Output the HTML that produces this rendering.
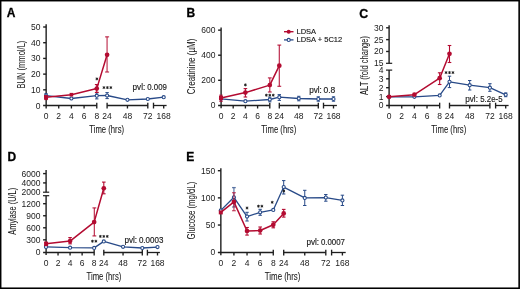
<!DOCTYPE html>
<html><head><meta charset="utf-8"><style>
html,body{margin:0;padding:0;background:#fff;}
body{width:520px;height:289px;overflow:hidden;}
svg{display:block;will-change:transform;font-family:"Liberation Sans", sans-serif;fill:#222;}
text{fill:#1a1a1a;}
.t{stroke:#1a1a1a;stroke-width:0.08px;}
.v{stroke:#1a1a1a;stroke-width:0.04px;}
.m{stroke:#1a1a1a;stroke-width:0.15px;}
.b{stroke:#000;stroke-width:0.3px;fill:#000;}
</style></head><body>
<svg width="520" height="289" viewBox="0 0 520 289">
<rect x="0.65" y="0.65" width="518.5" height="287.6" fill="none" stroke="#000" stroke-width="1.6"/>
<text x="6.80" y="17.00" font-size="12" text-anchor="start" font-weight="bold" class="b">A</text>
<text x="186.40" y="17.30" font-size="12" text-anchor="start" font-weight="bold" class="b">B</text>
<text x="359.30" y="17.70" font-size="12.4" text-anchor="start" font-weight="bold" class="b">C</text>
<text x="7.40" y="160.80" font-size="12" text-anchor="start" font-weight="bold" class="b">D</text>
<text x="186.30" y="161.30" font-size="12" text-anchor="start" font-weight="bold" class="b">E</text>
<line x1="46.15" y1="24.20" x2="46.15" y2="108.55" stroke="#1e1e1e" stroke-width="1.4"/>
<line x1="43.15" y1="89.84" x2="46.15" y2="89.84" stroke="#1e1e1e" stroke-width="1.4"/>
<text x="40.55" y="92.79" font-size="8.5" text-anchor="end" font-weight="normal">10</text>
<line x1="43.15" y1="74.13" x2="46.15" y2="74.13" stroke="#1e1e1e" stroke-width="1.4"/>
<text x="40.55" y="77.08" font-size="8.5" text-anchor="end" font-weight="normal">20</text>
<line x1="43.15" y1="58.42" x2="46.15" y2="58.42" stroke="#1e1e1e" stroke-width="1.4"/>
<text x="40.55" y="61.37" font-size="8.5" text-anchor="end" font-weight="normal">30</text>
<line x1="43.15" y1="42.71" x2="46.15" y2="42.71" stroke="#1e1e1e" stroke-width="1.4"/>
<text x="40.55" y="45.66" font-size="8.5" text-anchor="end" font-weight="normal">40</text>
<line x1="43.15" y1="27.00" x2="46.15" y2="27.00" stroke="#1e1e1e" stroke-width="1.4"/>
<text x="40.55" y="29.95" font-size="8.5" text-anchor="end" font-weight="normal">50</text>
<text x="40.55" y="108.50" font-size="8.5" text-anchor="end" font-weight="normal">0</text>
<line x1="43.10" y1="105.50" x2="96.77" y2="105.50" stroke="#1e1e1e" stroke-width="1.3"/>
<line x1="107.10" y1="105.50" x2="147.80" y2="105.50" stroke="#1e1e1e" stroke-width="1.3"/>
<line x1="153.50" y1="105.50" x2="166.60" y2="105.50" stroke="#1e1e1e" stroke-width="1.3"/>
<line x1="58.73" y1="105.50" x2="58.73" y2="108.50" stroke="#1e1e1e" stroke-width="1.35"/>
<line x1="71.41" y1="105.50" x2="71.41" y2="108.50" stroke="#1e1e1e" stroke-width="1.35"/>
<line x1="84.09" y1="105.50" x2="84.09" y2="108.50" stroke="#1e1e1e" stroke-width="1.35"/>
<line x1="127.45" y1="105.50" x2="127.45" y2="108.50" stroke="#1e1e1e" stroke-width="1.35"/>
<line x1="163.70" y1="105.50" x2="163.70" y2="108.50" stroke="#1e1e1e" stroke-width="1.35"/>
<line x1="96.77" y1="102.70" x2="96.77" y2="108.50" stroke="#1e1e1e" stroke-width="1.35"/>
<line x1="107.10" y1="102.70" x2="107.10" y2="108.50" stroke="#1e1e1e" stroke-width="1.35"/>
<line x1="147.80" y1="102.70" x2="147.80" y2="108.50" stroke="#1e1e1e" stroke-width="1.35"/>
<line x1="153.50" y1="102.70" x2="153.50" y2="108.50" stroke="#1e1e1e" stroke-width="1.35"/>
<text x="46.05" y="118.90" font-size="8.5" text-anchor="middle" font-weight="normal">0</text>
<text x="58.73" y="118.90" font-size="8.5" text-anchor="middle" font-weight="normal">2</text>
<text x="71.41" y="118.90" font-size="8.5" text-anchor="middle" font-weight="normal">4</text>
<text x="84.09" y="118.90" font-size="8.5" text-anchor="middle" font-weight="normal">6</text>
<text x="96.77" y="118.90" font-size="8.5" text-anchor="middle" font-weight="normal">8</text>
<text x="107.10" y="118.90" font-size="8.5" text-anchor="middle" font-weight="normal">24</text>
<text x="127.45" y="118.90" font-size="8.5" text-anchor="middle" font-weight="normal">48</text>
<text x="147.80" y="118.90" font-size="8.5" text-anchor="middle" font-weight="normal">72</text>
<text x="163.70" y="118.90" font-size="8.5" text-anchor="middle" font-weight="normal">168</text>
<text x="89.30" y="132.80" font-size="10" text-anchor="start" font-weight="normal" textLength="34.80" lengthAdjust="spacingAndGlyphs" class="t">Time (hrs)</text>
<text class="v" transform="translate(24.80,88.60) rotate(-90)" font-size="10" textLength="48.00" lengthAdjust="spacingAndGlyphs">BUN (mmol/L)</text>
<text x="132.55" y="90.00" font-size="8.3" text-anchor="start" font-weight="normal" textLength="12.70" lengthAdjust="spacingAndGlyphs" class="m">pvl:</text>
<text x="147.25" y="90.00" font-size="8.3" text-anchor="start" font-weight="normal" textLength="19.60" lengthAdjust="spacingAndGlyphs" class="m">0.009</text>
<polyline points="46.05,95.60 71.41,98.50 96.77,95.70 107.10,95.50 127.45,99.80 147.80,99.00 163.70,97.20" fill="none" stroke="#284a88" stroke-width="1.3" stroke-linejoin="round"/>
<line x1="46.05" y1="93.60" x2="46.05" y2="97.60" stroke="#284a88" stroke-width="1.0"/>
<line x1="44.45" y1="93.60" x2="47.65" y2="93.60" stroke="#284a88" stroke-width="1.0"/>
<line x1="44.45" y1="97.60" x2="47.65" y2="97.60" stroke="#284a88" stroke-width="1.0"/>
<line x1="96.77" y1="92.80" x2="96.77" y2="98.90" stroke="#284a88" stroke-width="1.0"/>
<line x1="95.07" y1="92.80" x2="98.47" y2="92.80" stroke="#284a88" stroke-width="1.0"/>
<line x1="95.07" y1="98.90" x2="98.47" y2="98.90" stroke="#284a88" stroke-width="1.0"/>
<line x1="107.10" y1="92.60" x2="107.10" y2="98.60" stroke="#284a88" stroke-width="1.0"/>
<line x1="105.40" y1="92.60" x2="108.80" y2="92.60" stroke="#284a88" stroke-width="1.0"/>
<line x1="105.40" y1="98.60" x2="108.80" y2="98.60" stroke="#284a88" stroke-width="1.0"/>
<line x1="71.41" y1="97.40" x2="71.41" y2="99.60" stroke="#284a88" stroke-width="1.0"/>
<line x1="69.91" y1="97.40" x2="72.91" y2="97.40" stroke="#284a88" stroke-width="1.0"/>
<line x1="69.91" y1="99.60" x2="72.91" y2="99.60" stroke="#284a88" stroke-width="1.0"/>
<circle cx="46.05" cy="95.60" r="1.55" fill="#fff" stroke="#284a88" stroke-width="1.1"/>
<circle cx="71.41" cy="98.50" r="1.55" fill="#fff" stroke="#284a88" stroke-width="1.1"/>
<circle cx="96.77" cy="95.70" r="1.55" fill="#fff" stroke="#284a88" stroke-width="1.1"/>
<circle cx="107.10" cy="95.50" r="1.55" fill="#fff" stroke="#284a88" stroke-width="1.1"/>
<circle cx="127.45" cy="99.80" r="1.55" fill="#fff" stroke="#284a88" stroke-width="1.1"/>
<circle cx="147.80" cy="99.00" r="1.55" fill="#fff" stroke="#284a88" stroke-width="1.1"/>
<circle cx="163.70" cy="97.20" r="1.55" fill="#fff" stroke="#284a88" stroke-width="1.1"/>
<polyline points="46.05,97.30 71.41,94.70 96.77,88.60 107.10,54.80" fill="none" stroke="#b30b31" stroke-width="1.5" stroke-linejoin="round"/>
<line x1="46.05" y1="95.60" x2="46.05" y2="99.60" stroke="#b30b31" stroke-width="1.0"/>
<line x1="44.25" y1="95.60" x2="47.85" y2="95.60" stroke="#b30b31" stroke-width="1.0"/>
<line x1="44.25" y1="99.60" x2="47.85" y2="99.60" stroke="#b30b31" stroke-width="1.0"/>
<line x1="96.77" y1="84.60" x2="96.77" y2="92.40" stroke="#b30b31" stroke-width="1.2"/>
<line x1="94.87" y1="84.60" x2="98.67" y2="84.60" stroke="#b30b31" stroke-width="1.2"/>
<line x1="94.87" y1="92.40" x2="98.67" y2="92.40" stroke="#b30b31" stroke-width="1.2"/>
<line x1="107.10" y1="36.80" x2="107.10" y2="72.00" stroke="#b30b31" stroke-width="1.6" stroke-opacity="0.62"/>
<line x1="105.10" y1="36.80" x2="109.10" y2="36.80" stroke="#b30b31" stroke-width="1.6" stroke-opacity="0.62"/>
<line x1="105.10" y1="72.00" x2="109.10" y2="72.00" stroke="#b30b31" stroke-width="1.6" stroke-opacity="0.62"/>
<rect x="44.05" y="95.30" width="4.0" height="4.0" fill="#b30b31"/>
<rect x="69.61" y="92.90" width="3.6" height="3.6" fill="#b30b31"/>
<circle cx="96.77" cy="88.60" r="2.35" fill="#b30b31"/>
<circle cx="107.10" cy="54.80" r="2.35" fill="#b30b31"/>
<path d="M96.90,77.85L96.90,79.95M95.99,78.38L97.81,79.43M97.81,78.38L95.99,79.43" stroke="#1a1a1a" stroke-width="0.9" stroke-linecap="round" fill="none"/>
<path d="M103.95,86.55L103.95,88.65M103.04,87.07L104.86,88.12M104.86,87.07L103.04,88.12" stroke="#1a1a1a" stroke-width="0.9" stroke-linecap="round" fill="none"/>
<path d="M107.40,86.55L107.40,88.65M106.49,87.07L108.31,88.12M108.31,87.07L106.49,88.12" stroke="#1a1a1a" stroke-width="0.9" stroke-linecap="round" fill="none"/>
<path d="M110.85,86.55L110.85,88.65M109.94,87.07L111.76,88.12M111.76,87.07L109.94,88.12" stroke="#1a1a1a" stroke-width="0.9" stroke-linecap="round" fill="none"/>
<line x1="221.10" y1="27.60" x2="221.10" y2="108.35" stroke="#1e1e1e" stroke-width="1.4"/>
<line x1="218.10" y1="80.28" x2="221.10" y2="80.28" stroke="#1e1e1e" stroke-width="1.4"/>
<text x="215.50" y="83.23" font-size="8.5" text-anchor="end" font-weight="normal">200</text>
<line x1="218.10" y1="55.21" x2="221.10" y2="55.21" stroke="#1e1e1e" stroke-width="1.4"/>
<text x="215.50" y="58.16" font-size="8.5" text-anchor="end" font-weight="normal">400</text>
<line x1="218.10" y1="30.14" x2="221.10" y2="30.14" stroke="#1e1e1e" stroke-width="1.4"/>
<text x="215.50" y="33.09" font-size="8.5" text-anchor="end" font-weight="normal">600</text>
<text x="215.50" y="108.30" font-size="8.5" text-anchor="end" font-weight="normal">0</text>
<line x1="218.10" y1="105.50" x2="269.80" y2="105.50" stroke="#1e1e1e" stroke-width="1.3"/>
<line x1="279.30" y1="105.50" x2="318.30" y2="105.50" stroke="#1e1e1e" stroke-width="1.3"/>
<line x1="323.50" y1="105.50" x2="336.90" y2="105.50" stroke="#1e1e1e" stroke-width="1.3"/>
<line x1="233.20" y1="105.50" x2="233.20" y2="108.50" stroke="#1e1e1e" stroke-width="1.35"/>
<line x1="245.40" y1="105.50" x2="245.40" y2="108.50" stroke="#1e1e1e" stroke-width="1.35"/>
<line x1="257.60" y1="105.50" x2="257.60" y2="108.50" stroke="#1e1e1e" stroke-width="1.35"/>
<line x1="298.80" y1="105.50" x2="298.80" y2="108.50" stroke="#1e1e1e" stroke-width="1.35"/>
<line x1="333.50" y1="105.50" x2="333.50" y2="108.50" stroke="#1e1e1e" stroke-width="1.35"/>
<line x1="269.80" y1="102.70" x2="269.80" y2="108.50" stroke="#1e1e1e" stroke-width="1.35"/>
<line x1="279.30" y1="102.70" x2="279.30" y2="108.50" stroke="#1e1e1e" stroke-width="1.35"/>
<line x1="318.30" y1="102.70" x2="318.30" y2="108.50" stroke="#1e1e1e" stroke-width="1.35"/>
<line x1="323.50" y1="102.70" x2="323.50" y2="108.50" stroke="#1e1e1e" stroke-width="1.35"/>
<text x="221.00" y="118.90" font-size="8.5" text-anchor="middle" font-weight="normal">0</text>
<text x="233.20" y="118.90" font-size="8.5" text-anchor="middle" font-weight="normal">2</text>
<text x="245.40" y="118.90" font-size="8.5" text-anchor="middle" font-weight="normal">4</text>
<text x="257.60" y="118.90" font-size="8.5" text-anchor="middle" font-weight="normal">6</text>
<text x="269.80" y="118.90" font-size="8.5" text-anchor="middle" font-weight="normal">8</text>
<text x="279.30" y="118.90" font-size="8.5" text-anchor="middle" font-weight="normal">24</text>
<text x="298.80" y="118.90" font-size="8.5" text-anchor="middle" font-weight="normal">48</text>
<text x="318.30" y="118.90" font-size="8.5" text-anchor="middle" font-weight="normal">72</text>
<text x="333.50" y="118.90" font-size="8.5" text-anchor="middle" font-weight="normal">168</text>
<text x="261.30" y="132.70" font-size="10" text-anchor="start" font-weight="normal" textLength="35.00" lengthAdjust="spacingAndGlyphs" class="t">Time (hrs)</text>
<text class="v" transform="translate(195.40,94.20) rotate(-90)" font-size="10" textLength="55.60" lengthAdjust="spacingAndGlyphs">Creatinine (µM)</text>
<text x="309.15" y="92.90" font-size="8.3" text-anchor="start" font-weight="normal" textLength="12.70" lengthAdjust="spacingAndGlyphs" class="m">pvl:</text>
<text x="323.45" y="92.90" font-size="8.3" text-anchor="start" font-weight="normal" textLength="11.80" lengthAdjust="spacingAndGlyphs" class="m">0.8</text>
<line x1="284.00" y1="31.70" x2="293.50" y2="31.70" stroke="#b30b31" stroke-width="1.4"/>
<circle cx="288.70" cy="31.70" r="2.0" fill="#b30b31"/>
<line x1="284.00" y1="39.90" x2="293.50" y2="39.90" stroke="#284a88" stroke-width="1.3"/>
<circle cx="288.70" cy="39.90" r="1.55" fill="#fff" stroke="#284a88" stroke-width="1.1"/>
<text x="296.50" y="34.10" font-size="7.5" text-anchor="start" font-weight="normal" class="m">LDSA</text>
<text x="296.50" y="41.90" font-size="7.5" text-anchor="start" font-weight="normal" class="m">LDSA + 5C12</text>
<polyline points="221.00,98.80 245.40,101.20 269.80,99.50 279.30,97.20 298.80,98.50 318.30,99.00 333.50,99.00" fill="none" stroke="#284a88" stroke-width="1.3" stroke-linejoin="round"/>
<line x1="269.80" y1="97.20" x2="269.80" y2="101.80" stroke="#284a88" stroke-width="1.0"/>
<line x1="268.15" y1="97.20" x2="271.45" y2="97.20" stroke="#284a88" stroke-width="1.0"/>
<line x1="268.15" y1="101.80" x2="271.45" y2="101.80" stroke="#284a88" stroke-width="1.0"/>
<line x1="279.30" y1="94.60" x2="279.30" y2="100.40" stroke="#284a88" stroke-width="1.0"/>
<line x1="277.60" y1="94.60" x2="281.00" y2="94.60" stroke="#284a88" stroke-width="1.0"/>
<line x1="277.60" y1="100.40" x2="281.00" y2="100.40" stroke="#284a88" stroke-width="1.0"/>
<line x1="298.80" y1="96.30" x2="298.80" y2="100.80" stroke="#284a88" stroke-width="1.0"/>
<line x1="297.15" y1="96.30" x2="300.45" y2="96.30" stroke="#284a88" stroke-width="1.0"/>
<line x1="297.15" y1="100.80" x2="300.45" y2="100.80" stroke="#284a88" stroke-width="1.0"/>
<line x1="318.30" y1="96.80" x2="318.30" y2="101.20" stroke="#284a88" stroke-width="1.0"/>
<line x1="316.65" y1="96.80" x2="319.95" y2="96.80" stroke="#284a88" stroke-width="1.0"/>
<line x1="316.65" y1="101.20" x2="319.95" y2="101.20" stroke="#284a88" stroke-width="1.0"/>
<line x1="333.50" y1="96.80" x2="333.50" y2="101.20" stroke="#284a88" stroke-width="1.0"/>
<line x1="331.85" y1="96.80" x2="335.15" y2="96.80" stroke="#284a88" stroke-width="1.0"/>
<line x1="331.85" y1="101.20" x2="335.15" y2="101.20" stroke="#284a88" stroke-width="1.0"/>
<circle cx="221.00" cy="98.80" r="1.55" fill="#fff" stroke="#284a88" stroke-width="1.1"/>
<circle cx="245.40" cy="101.20" r="1.55" fill="#fff" stroke="#284a88" stroke-width="1.1"/>
<circle cx="269.80" cy="99.50" r="1.55" fill="#fff" stroke="#284a88" stroke-width="1.1"/>
<circle cx="279.30" cy="97.20" r="1.55" fill="#fff" stroke="#284a88" stroke-width="1.1"/>
<circle cx="298.80" cy="98.50" r="1.55" fill="#fff" stroke="#284a88" stroke-width="1.1"/>
<circle cx="318.30" cy="99.00" r="1.55" fill="#fff" stroke="#284a88" stroke-width="1.1"/>
<circle cx="333.50" cy="99.00" r="1.55" fill="#fff" stroke="#284a88" stroke-width="1.1"/>
<polyline points="221.00,98.00 245.40,92.60 269.80,85.10 279.30,65.70" fill="none" stroke="#b30b31" stroke-width="1.5" stroke-linejoin="round"/>
<line x1="221.00" y1="95.20" x2="221.00" y2="101.20" stroke="#b30b31" stroke-width="1.0"/>
<line x1="219.20" y1="95.20" x2="222.80" y2="95.20" stroke="#b30b31" stroke-width="1.0"/>
<line x1="219.20" y1="101.20" x2="222.80" y2="101.20" stroke="#b30b31" stroke-width="1.0"/>
<line x1="245.40" y1="88.60" x2="245.40" y2="97.00" stroke="#b30b31" stroke-width="1.1"/>
<line x1="243.60" y1="88.60" x2="247.20" y2="88.60" stroke="#b30b31" stroke-width="1.1"/>
<line x1="243.60" y1="97.00" x2="247.20" y2="97.00" stroke="#b30b31" stroke-width="1.1"/>
<line x1="269.80" y1="77.90" x2="269.80" y2="92.00" stroke="#b30b31" stroke-width="1.15" stroke-opacity="0.9"/>
<line x1="267.90" y1="77.90" x2="271.70" y2="77.90" stroke="#b30b31" stroke-width="1.15" stroke-opacity="0.9"/>
<line x1="267.90" y1="92.00" x2="271.70" y2="92.00" stroke="#b30b31" stroke-width="1.15" stroke-opacity="0.9"/>
<line x1="279.30" y1="45.10" x2="279.30" y2="86.30" stroke="#b30b31" stroke-width="1.15" stroke-opacity="0.9"/>
<line x1="277.40" y1="45.10" x2="281.20" y2="45.10" stroke="#b30b31" stroke-width="1.15" stroke-opacity="0.9"/>
<line x1="277.40" y1="86.30" x2="281.20" y2="86.30" stroke="#b30b31" stroke-width="1.15" stroke-opacity="0.9"/>
<rect x="219.00" y="96.00" width="4.0" height="4.0" fill="#b30b31"/>
<circle cx="245.40" cy="92.60" r="2.35" fill="#b30b31"/>
<circle cx="269.80" cy="85.10" r="2.35" fill="#b30b31"/>
<circle cx="279.30" cy="65.70" r="2.35" fill="#b30b31"/>
<path d="M245.40,83.85L245.40,85.95M244.49,84.38L246.31,85.43M246.31,84.38L244.49,85.43" stroke="#1a1a1a" stroke-width="0.9" stroke-linecap="round" fill="none"/>
<path d="M266.35,94.15L266.35,96.25M265.44,94.67L267.26,95.73M267.26,94.67L265.44,95.73" stroke="#1a1a1a" stroke-width="0.9" stroke-linecap="round" fill="none"/>
<path d="M269.80,94.15L269.80,96.25M268.89,94.67L270.71,95.73M270.71,94.67L268.89,95.73" stroke="#1a1a1a" stroke-width="0.9" stroke-linecap="round" fill="none"/>
<path d="M273.25,94.15L273.25,96.25M272.34,94.67L274.16,95.73M274.16,94.67L272.34,95.73" stroke="#1a1a1a" stroke-width="0.9" stroke-linecap="round" fill="none"/>
<line x1="389.10" y1="25.20" x2="389.10" y2="63.30" stroke="#1e1e1e" stroke-width="1.4"/>
<line x1="389.10" y1="70.10" x2="389.10" y2="108.50" stroke="#1e1e1e" stroke-width="1.4"/>
<line x1="386.10" y1="51.47" x2="389.10" y2="51.47" stroke="#1e1e1e" stroke-width="1.4"/>
<text x="383.50" y="54.42" font-size="8.5" text-anchor="end" font-weight="normal">20</text>
<line x1="386.10" y1="39.63" x2="389.10" y2="39.63" stroke="#1e1e1e" stroke-width="1.4"/>
<text x="383.50" y="42.58" font-size="8.5" text-anchor="end" font-weight="normal">25</text>
<line x1="386.10" y1="27.80" x2="389.10" y2="27.80" stroke="#1e1e1e" stroke-width="1.4"/>
<text x="383.50" y="30.75" font-size="8.5" text-anchor="end" font-weight="normal">30</text>
<line x1="386.00" y1="63.30" x2="392.20" y2="63.30" stroke="#1e1e1e" stroke-width="1.2"/>
<text x="383.50" y="66.00" font-size="8.5" text-anchor="end" font-weight="normal">15</text>
<line x1="386.00" y1="70.10" x2="392.20" y2="70.10" stroke="#1e1e1e" stroke-width="1.2"/>
<text x="383.50" y="72.70" font-size="8.5" text-anchor="end" font-weight="normal">4</text>
<line x1="386.10" y1="96.60" x2="389.10" y2="96.60" stroke="#1e1e1e" stroke-width="1.4"/>
<text x="383.50" y="99.55" font-size="8.5" text-anchor="end" font-weight="normal">1</text>
<line x1="386.10" y1="87.70" x2="389.10" y2="87.70" stroke="#1e1e1e" stroke-width="1.4"/>
<text x="383.50" y="90.65" font-size="8.5" text-anchor="end" font-weight="normal">2</text>
<line x1="386.10" y1="78.80" x2="389.10" y2="78.80" stroke="#1e1e1e" stroke-width="1.4"/>
<text x="383.50" y="81.75" font-size="8.5" text-anchor="end" font-weight="normal">3</text>
<text x="383.50" y="108.45" font-size="8.5" text-anchor="end" font-weight="normal">0</text>
<line x1="386.10" y1="105.50" x2="439.66" y2="105.50" stroke="#1e1e1e" stroke-width="1.3"/>
<line x1="449.50" y1="105.50" x2="489.90" y2="105.50" stroke="#1e1e1e" stroke-width="1.3"/>
<line x1="495.60" y1="105.50" x2="508.60" y2="105.50" stroke="#1e1e1e" stroke-width="1.3"/>
<line x1="401.74" y1="105.50" x2="401.74" y2="108.50" stroke="#1e1e1e" stroke-width="1.35"/>
<line x1="414.38" y1="105.50" x2="414.38" y2="108.50" stroke="#1e1e1e" stroke-width="1.35"/>
<line x1="427.02" y1="105.50" x2="427.02" y2="108.50" stroke="#1e1e1e" stroke-width="1.35"/>
<line x1="469.70" y1="105.50" x2="469.70" y2="108.50" stroke="#1e1e1e" stroke-width="1.35"/>
<line x1="505.70" y1="105.50" x2="505.70" y2="108.50" stroke="#1e1e1e" stroke-width="1.35"/>
<line x1="439.66" y1="102.70" x2="439.66" y2="108.50" stroke="#1e1e1e" stroke-width="1.35"/>
<line x1="449.50" y1="102.70" x2="449.50" y2="108.50" stroke="#1e1e1e" stroke-width="1.35"/>
<line x1="489.90" y1="102.70" x2="489.90" y2="108.50" stroke="#1e1e1e" stroke-width="1.35"/>
<line x1="495.60" y1="102.70" x2="495.60" y2="108.50" stroke="#1e1e1e" stroke-width="1.35"/>
<text x="389.10" y="118.80" font-size="8.5" text-anchor="middle" font-weight="normal">0</text>
<text x="401.74" y="118.80" font-size="8.5" text-anchor="middle" font-weight="normal">2</text>
<text x="414.38" y="118.80" font-size="8.5" text-anchor="middle" font-weight="normal">4</text>
<text x="427.02" y="118.80" font-size="8.5" text-anchor="middle" font-weight="normal">6</text>
<text x="439.66" y="118.80" font-size="8.5" text-anchor="middle" font-weight="normal">8</text>
<text x="449.50" y="118.80" font-size="8.5" text-anchor="middle" font-weight="normal">24</text>
<text x="469.70" y="118.80" font-size="8.5" text-anchor="middle" font-weight="normal">48</text>
<text x="489.90" y="118.80" font-size="8.5" text-anchor="middle" font-weight="normal">72</text>
<text x="505.70" y="118.80" font-size="8.5" text-anchor="middle" font-weight="normal">168</text>
<text x="431.30" y="132.70" font-size="10" text-anchor="start" font-weight="normal" textLength="35.00" lengthAdjust="spacingAndGlyphs" class="t">Time (hrs)</text>
<text class="v" transform="translate(367.70,94.90) rotate(-90)" font-size="10" textLength="58.80" lengthAdjust="spacingAndGlyphs">ALT (fold change)</text>
<text x="465.25" y="101.70" font-size="8.3" text-anchor="start" font-weight="normal" textLength="12.70" lengthAdjust="spacingAndGlyphs" class="m">pvl:</text>
<text x="480.25" y="101.70" font-size="8.3" text-anchor="start" font-weight="normal" textLength="22.30" lengthAdjust="spacingAndGlyphs" class="m">5.2e-5</text>
<polyline points="389.10,96.80 414.38,96.80 439.66,95.40 449.50,81.80 469.70,85.20 489.90,87.70 505.70,94.80" fill="none" stroke="#284a88" stroke-width="1.3" stroke-linejoin="round"/>
<line x1="449.50" y1="76.20" x2="449.50" y2="87.60" stroke="#284a88" stroke-width="1.0"/>
<line x1="447.80" y1="76.20" x2="451.20" y2="76.20" stroke="#284a88" stroke-width="1.0"/>
<line x1="447.80" y1="87.60" x2="451.20" y2="87.60" stroke="#284a88" stroke-width="1.0"/>
<line x1="469.70" y1="80.50" x2="469.70" y2="90.00" stroke="#284a88" stroke-width="1.0"/>
<line x1="468.00" y1="80.50" x2="471.40" y2="80.50" stroke="#284a88" stroke-width="1.0"/>
<line x1="468.00" y1="90.00" x2="471.40" y2="90.00" stroke="#284a88" stroke-width="1.0"/>
<line x1="489.90" y1="83.70" x2="489.90" y2="91.30" stroke="#284a88" stroke-width="1.0"/>
<line x1="488.20" y1="83.70" x2="491.60" y2="83.70" stroke="#284a88" stroke-width="1.0"/>
<line x1="488.20" y1="91.30" x2="491.60" y2="91.30" stroke="#284a88" stroke-width="1.0"/>
<line x1="505.70" y1="92.90" x2="505.70" y2="96.70" stroke="#284a88" stroke-width="1.0"/>
<line x1="504.10" y1="92.90" x2="507.30" y2="92.90" stroke="#284a88" stroke-width="1.0"/>
<line x1="504.10" y1="96.70" x2="507.30" y2="96.70" stroke="#284a88" stroke-width="1.0"/>
<circle cx="389.10" cy="96.80" r="1.55" fill="#fff" stroke="#284a88" stroke-width="1.1"/>
<circle cx="414.38" cy="96.80" r="1.55" fill="#fff" stroke="#284a88" stroke-width="1.1"/>
<circle cx="439.66" cy="95.40" r="1.55" fill="#fff" stroke="#284a88" stroke-width="1.1"/>
<circle cx="449.50" cy="81.80" r="1.55" fill="#fff" stroke="#284a88" stroke-width="1.1"/>
<circle cx="469.70" cy="85.20" r="1.55" fill="#fff" stroke="#284a88" stroke-width="1.1"/>
<circle cx="489.90" cy="87.70" r="1.55" fill="#fff" stroke="#284a88" stroke-width="1.1"/>
<circle cx="505.70" cy="94.80" r="1.55" fill="#fff" stroke="#284a88" stroke-width="1.1"/>
<polyline points="389.10,96.80 414.38,94.70 439.66,78.20 449.50,53.80" fill="none" stroke="#b30b31" stroke-width="1.5" stroke-linejoin="round"/>
<line x1="439.66" y1="72.80" x2="439.66" y2="84.50" stroke="#b30b31" stroke-width="1.1"/>
<line x1="437.86" y1="72.80" x2="441.46" y2="72.80" stroke="#b30b31" stroke-width="1.1"/>
<line x1="437.86" y1="84.50" x2="441.46" y2="84.50" stroke="#b30b31" stroke-width="1.1"/>
<line x1="449.50" y1="45.50" x2="449.50" y2="62.50" stroke="#b30b31" stroke-width="1.1"/>
<line x1="447.70" y1="45.50" x2="451.30" y2="45.50" stroke="#b30b31" stroke-width="1.1"/>
<line x1="447.70" y1="62.50" x2="451.30" y2="62.50" stroke="#b30b31" stroke-width="1.1"/>
<circle cx="389.10" cy="96.80" r="2.35" fill="#b30b31"/>
<circle cx="414.38" cy="94.70" r="2.35" fill="#b30b31"/>
<circle cx="439.66" cy="78.20" r="2.35" fill="#b30b31"/>
<circle cx="449.50" cy="53.80" r="2.35" fill="#b30b31"/>
<path d="M446.05,71.55L446.05,73.65M445.14,72.07L446.96,73.12M446.96,72.07L445.14,73.12" stroke="#1a1a1a" stroke-width="0.9" stroke-linecap="round" fill="none"/>
<path d="M449.50,71.55L449.50,73.65M448.59,72.07L450.41,73.12M450.41,72.07L448.59,73.12" stroke="#1a1a1a" stroke-width="0.9" stroke-linecap="round" fill="none"/>
<path d="M452.95,71.55L452.95,73.65M452.04,72.07L453.86,73.12M453.86,72.07L452.04,73.12" stroke="#1a1a1a" stroke-width="0.9" stroke-linecap="round" fill="none"/>
<line x1="46.10" y1="170.00" x2="46.10" y2="192.20" stroke="#1e1e1e" stroke-width="1.4"/>
<line x1="46.10" y1="195.70" x2="46.10" y2="254.90" stroke="#1e1e1e" stroke-width="1.4"/>
<line x1="43.10" y1="182.90" x2="46.10" y2="182.90" stroke="#1e1e1e" stroke-width="1.4"/>
<text x="40.50" y="185.85" font-size="8.5" text-anchor="end" font-weight="normal">4000</text>
<line x1="43.10" y1="173.60" x2="46.10" y2="173.60" stroke="#1e1e1e" stroke-width="1.4"/>
<text x="40.50" y="176.55" font-size="8.5" text-anchor="end" font-weight="normal">6000</text>
<line x1="43.00" y1="192.20" x2="49.20" y2="192.20" stroke="#1e1e1e" stroke-width="1.2"/>
<text x="40.50" y="195.00" font-size="8.5" text-anchor="end" font-weight="normal">2000</text>
<line x1="43.00" y1="195.70" x2="49.20" y2="195.70" stroke="#1e1e1e" stroke-width="1.2"/>
<line x1="43.10" y1="239.85" x2="46.10" y2="239.85" stroke="#1e1e1e" stroke-width="1.4"/>
<text x="40.50" y="242.80" font-size="8.5" text-anchor="end" font-weight="normal">300</text>
<line x1="43.10" y1="227.80" x2="46.10" y2="227.80" stroke="#1e1e1e" stroke-width="1.4"/>
<text x="40.50" y="230.75" font-size="8.5" text-anchor="end" font-weight="normal">600</text>
<line x1="43.10" y1="215.75" x2="46.10" y2="215.75" stroke="#1e1e1e" stroke-width="1.4"/>
<text x="40.50" y="218.70" font-size="8.5" text-anchor="end" font-weight="normal">900</text>
<line x1="43.10" y1="203.70" x2="46.10" y2="203.70" stroke="#1e1e1e" stroke-width="1.4"/>
<text x="40.50" y="206.65" font-size="8.5" text-anchor="end" font-weight="normal">1200</text>
<text x="40.50" y="254.85" font-size="8.5" text-anchor="end" font-weight="normal">0</text>
<line x1="43.10" y1="252.50" x2="94.16" y2="252.50" stroke="#1e1e1e" stroke-width="1.3"/>
<line x1="103.80" y1="252.50" x2="142.30" y2="252.50" stroke="#1e1e1e" stroke-width="1.3"/>
<line x1="147.40" y1="252.50" x2="159.90" y2="252.50" stroke="#1e1e1e" stroke-width="1.3"/>
<line x1="58.04" y1="252.50" x2="58.04" y2="255.50" stroke="#1e1e1e" stroke-width="1.35"/>
<line x1="70.08" y1="252.50" x2="70.08" y2="255.50" stroke="#1e1e1e" stroke-width="1.35"/>
<line x1="82.12" y1="252.50" x2="82.12" y2="255.50" stroke="#1e1e1e" stroke-width="1.35"/>
<line x1="123.05" y1="252.50" x2="123.05" y2="255.50" stroke="#1e1e1e" stroke-width="1.35"/>
<line x1="157.50" y1="252.50" x2="157.50" y2="255.50" stroke="#1e1e1e" stroke-width="1.35"/>
<line x1="94.16" y1="249.70" x2="94.16" y2="255.50" stroke="#1e1e1e" stroke-width="1.35"/>
<line x1="103.80" y1="249.70" x2="103.80" y2="255.50" stroke="#1e1e1e" stroke-width="1.35"/>
<line x1="142.30" y1="249.70" x2="142.30" y2="255.50" stroke="#1e1e1e" stroke-width="1.35"/>
<line x1="147.40" y1="249.70" x2="147.40" y2="255.50" stroke="#1e1e1e" stroke-width="1.35"/>
<text x="46.00" y="265.70" font-size="8.5" text-anchor="middle" font-weight="normal">0</text>
<text x="58.04" y="265.70" font-size="8.5" text-anchor="middle" font-weight="normal">2</text>
<text x="70.08" y="265.70" font-size="8.5" text-anchor="middle" font-weight="normal">4</text>
<text x="82.12" y="265.70" font-size="8.5" text-anchor="middle" font-weight="normal">6</text>
<text x="94.16" y="265.70" font-size="8.5" text-anchor="middle" font-weight="normal">8</text>
<text x="103.80" y="265.70" font-size="8.5" text-anchor="middle" font-weight="normal">24</text>
<text x="123.05" y="265.70" font-size="8.5" text-anchor="middle" font-weight="normal">48</text>
<text x="142.30" y="265.70" font-size="8.5" text-anchor="middle" font-weight="normal">72</text>
<text x="157.50" y="265.70" font-size="8.5" text-anchor="middle" font-weight="normal">168</text>
<text x="86.50" y="279.70" font-size="10" text-anchor="start" font-weight="normal" textLength="34.80" lengthAdjust="spacingAndGlyphs" class="t">Time (hrs)</text>
<text class="v" transform="translate(15.70,234.70) rotate(-90)" font-size="10" textLength="46.80" lengthAdjust="spacingAndGlyphs">Amylase (U/L)</text>
<text x="124.45" y="242.50" font-size="8.3" text-anchor="start" font-weight="normal" textLength="12.70" lengthAdjust="spacingAndGlyphs" class="m">pvl:</text>
<text x="138.95" y="242.50" font-size="8.3" text-anchor="start" font-weight="normal" textLength="24.40" lengthAdjust="spacingAndGlyphs" class="m">0.0003</text>
<polyline points="46.00,246.90 70.08,247.70 94.16,247.90 103.80,241.40 123.05,246.80 142.30,248.00 157.50,247.10" fill="none" stroke="#284a88" stroke-width="1.3" stroke-linejoin="round"/>
<circle cx="46.00" cy="246.90" r="1.55" fill="#fff" stroke="#284a88" stroke-width="1.1"/>
<circle cx="70.08" cy="247.70" r="1.55" fill="#fff" stroke="#284a88" stroke-width="1.1"/>
<circle cx="94.16" cy="247.90" r="1.55" fill="#fff" stroke="#284a88" stroke-width="1.1"/>
<circle cx="103.80" cy="241.40" r="1.55" fill="#fff" stroke="#284a88" stroke-width="1.1"/>
<circle cx="123.05" cy="246.80" r="1.55" fill="#fff" stroke="#284a88" stroke-width="1.1"/>
<circle cx="142.30" cy="248.00" r="1.55" fill="#fff" stroke="#284a88" stroke-width="1.1"/>
<circle cx="157.50" cy="247.10" r="1.55" fill="#fff" stroke="#284a88" stroke-width="1.1"/>
<polyline points="46.00,243.80 70.08,241.10 94.16,222.10 103.80,188.30" fill="none" stroke="#b30b31" stroke-width="1.5" stroke-linejoin="round"/>
<line x1="46.00" y1="242.00" x2="46.00" y2="245.60" stroke="#b30b31" stroke-width="1.0"/>
<line x1="44.20" y1="242.00" x2="47.80" y2="242.00" stroke="#b30b31" stroke-width="1.0"/>
<line x1="44.20" y1="245.60" x2="47.80" y2="245.60" stroke="#b30b31" stroke-width="1.0"/>
<line x1="70.08" y1="237.60" x2="70.08" y2="243.80" stroke="#b30b31" stroke-width="1.1"/>
<line x1="68.28" y1="237.60" x2="71.88" y2="237.60" stroke="#b30b31" stroke-width="1.1"/>
<line x1="68.28" y1="243.80" x2="71.88" y2="243.80" stroke="#b30b31" stroke-width="1.1"/>
<line x1="94.36" y1="207.90" x2="94.36" y2="235.90" stroke="#b30b31" stroke-width="1.3" stroke-opacity="0.8"/>
<line x1="92.46" y1="207.90" x2="96.26" y2="207.90" stroke="#b30b31" stroke-width="1.3" stroke-opacity="0.8"/>
<line x1="92.46" y1="235.90" x2="96.26" y2="235.90" stroke="#b30b31" stroke-width="1.3" stroke-opacity="0.8"/>
<line x1="103.80" y1="182.10" x2="103.80" y2="193.80" stroke="#b30b31" stroke-width="1.1"/>
<line x1="102.00" y1="182.10" x2="105.60" y2="182.10" stroke="#b30b31" stroke-width="1.1"/>
<line x1="102.00" y1="193.80" x2="105.60" y2="193.80" stroke="#b30b31" stroke-width="1.1"/>
<rect x="44.10" y="242.00" width="4.0" height="4.0" fill="#b30b31"/>
<circle cx="70.08" cy="241.10" r="2.35" fill="#b30b31"/>
<circle cx="94.16" cy="222.10" r="2.35" fill="#b30b31"/>
<circle cx="103.80" cy="188.30" r="2.35" fill="#b30b31"/>
<path d="M92.44,240.15L92.44,242.25M91.53,240.67L93.34,241.72M93.34,240.67L91.53,241.72" stroke="#1a1a1a" stroke-width="0.9" stroke-linecap="round" fill="none"/>
<path d="M95.88,240.15L95.88,242.25M94.98,240.67L96.79,241.72M96.79,240.67L94.98,241.72" stroke="#1a1a1a" stroke-width="0.9" stroke-linecap="round" fill="none"/>
<path d="M100.35,235.35L100.35,237.45M99.44,235.88L101.26,236.93M101.26,235.88L99.44,236.93" stroke="#1a1a1a" stroke-width="0.9" stroke-linecap="round" fill="none"/>
<path d="M103.80,235.35L103.80,237.45M102.89,235.88L104.71,236.93M104.71,235.88L102.89,236.93" stroke="#1a1a1a" stroke-width="0.9" stroke-linecap="round" fill="none"/>
<path d="M107.25,235.35L107.25,237.45M106.34,235.88L108.16,236.93M108.16,235.88L106.34,236.93" stroke="#1a1a1a" stroke-width="0.9" stroke-linecap="round" fill="none"/>
<line x1="220.85" y1="168.30" x2="220.85" y2="255.20" stroke="#1e1e1e" stroke-width="1.4"/>
<line x1="217.85" y1="225.03" x2="220.85" y2="225.03" stroke="#1e1e1e" stroke-width="1.4"/>
<text x="215.25" y="227.98" font-size="8.5" text-anchor="end" font-weight="normal">50</text>
<line x1="217.85" y1="197.87" x2="220.85" y2="197.87" stroke="#1e1e1e" stroke-width="1.4"/>
<text x="215.25" y="200.82" font-size="8.5" text-anchor="end" font-weight="normal">100</text>
<line x1="217.85" y1="170.70" x2="220.85" y2="170.70" stroke="#1e1e1e" stroke-width="1.4"/>
<text x="215.25" y="173.65" font-size="8.5" text-anchor="end" font-weight="normal">150</text>
<text x="215.25" y="255.15" font-size="8.5" text-anchor="end" font-weight="normal">0</text>
<line x1="217.90" y1="252.50" x2="273.28" y2="252.50" stroke="#1e1e1e" stroke-width="1.3"/>
<line x1="283.70" y1="252.50" x2="325.80" y2="252.50" stroke="#1e1e1e" stroke-width="1.3"/>
<line x1="331.60" y1="252.50" x2="345.70" y2="252.50" stroke="#1e1e1e" stroke-width="1.3"/>
<line x1="233.92" y1="252.50" x2="233.92" y2="255.50" stroke="#1e1e1e" stroke-width="1.35"/>
<line x1="247.04" y1="252.50" x2="247.04" y2="255.50" stroke="#1e1e1e" stroke-width="1.35"/>
<line x1="260.16" y1="252.50" x2="260.16" y2="255.50" stroke="#1e1e1e" stroke-width="1.35"/>
<line x1="304.75" y1="252.50" x2="304.75" y2="255.50" stroke="#1e1e1e" stroke-width="1.35"/>
<line x1="342.40" y1="252.50" x2="342.40" y2="255.50" stroke="#1e1e1e" stroke-width="1.35"/>
<line x1="273.28" y1="249.70" x2="273.28" y2="255.50" stroke="#1e1e1e" stroke-width="1.35"/>
<line x1="283.70" y1="249.70" x2="283.70" y2="255.50" stroke="#1e1e1e" stroke-width="1.35"/>
<line x1="325.80" y1="249.70" x2="325.80" y2="255.50" stroke="#1e1e1e" stroke-width="1.35"/>
<line x1="331.60" y1="249.70" x2="331.60" y2="255.50" stroke="#1e1e1e" stroke-width="1.35"/>
<text x="220.80" y="265.70" font-size="8.5" text-anchor="middle" font-weight="normal">0</text>
<text x="233.92" y="265.70" font-size="8.5" text-anchor="middle" font-weight="normal">2</text>
<text x="247.04" y="265.70" font-size="8.5" text-anchor="middle" font-weight="normal">4</text>
<text x="260.16" y="265.70" font-size="8.5" text-anchor="middle" font-weight="normal">6</text>
<text x="273.28" y="265.70" font-size="8.5" text-anchor="middle" font-weight="normal">8</text>
<text x="283.70" y="265.70" font-size="8.5" text-anchor="middle" font-weight="normal">24</text>
<text x="304.75" y="265.70" font-size="8.5" text-anchor="middle" font-weight="normal">48</text>
<text x="325.80" y="265.70" font-size="8.5" text-anchor="middle" font-weight="normal">72</text>
<text x="342.40" y="265.70" font-size="8.5" text-anchor="middle" font-weight="normal">168</text>
<text x="264.80" y="279.70" font-size="10" text-anchor="start" font-weight="normal" textLength="35.60" lengthAdjust="spacingAndGlyphs" class="t">Time (hrs)</text>
<text class="v" transform="translate(194.60,239.40) rotate(-90)" font-size="10" textLength="57.80" lengthAdjust="spacingAndGlyphs">Glucose (mg/dL)</text>
<text x="306.45" y="244.50" font-size="8.3" text-anchor="start" font-weight="normal" textLength="12.70" lengthAdjust="spacingAndGlyphs" class="m">pvl:</text>
<text x="320.95" y="244.50" font-size="8.3" text-anchor="start" font-weight="normal" textLength="24.00" lengthAdjust="spacingAndGlyphs" class="m">0.0007</text>
<polyline points="220.80,210.40 233.92,197.30 247.04,216.60 260.16,212.30 273.28,209.90 283.70,187.10 304.75,197.90 325.80,197.60 342.40,200.40" fill="none" stroke="#284a88" stroke-width="1.3" stroke-linejoin="round"/>
<line x1="233.92" y1="187.60" x2="233.92" y2="207.00" stroke="#284a88" stroke-width="1.3" stroke-opacity="0.7"/>
<line x1="232.02" y1="187.60" x2="235.82" y2="187.60" stroke="#284a88" stroke-width="1.3" stroke-opacity="0.7"/>
<line x1="232.02" y1="207.00" x2="235.82" y2="207.00" stroke="#284a88" stroke-width="1.3" stroke-opacity="0.7"/>
<line x1="247.04" y1="212.30" x2="247.04" y2="221.00" stroke="#284a88" stroke-width="1.0"/>
<line x1="245.34" y1="212.30" x2="248.74" y2="212.30" stroke="#284a88" stroke-width="1.0"/>
<line x1="245.34" y1="221.00" x2="248.74" y2="221.00" stroke="#284a88" stroke-width="1.0"/>
<line x1="260.16" y1="209.30" x2="260.16" y2="215.30" stroke="#284a88" stroke-width="1.0"/>
<line x1="258.46" y1="209.30" x2="261.86" y2="209.30" stroke="#284a88" stroke-width="1.0"/>
<line x1="258.46" y1="215.30" x2="261.86" y2="215.30" stroke="#284a88" stroke-width="1.0"/>
<line x1="283.70" y1="180.60" x2="283.70" y2="194.00" stroke="#284a88" stroke-width="1.0"/>
<line x1="282.00" y1="180.60" x2="285.40" y2="180.60" stroke="#284a88" stroke-width="1.0"/>
<line x1="282.00" y1="194.00" x2="285.40" y2="194.00" stroke="#284a88" stroke-width="1.0"/>
<line x1="304.75" y1="190.30" x2="304.75" y2="205.50" stroke="#284a88" stroke-width="1.0"/>
<line x1="303.05" y1="190.30" x2="306.45" y2="190.30" stroke="#284a88" stroke-width="1.0"/>
<line x1="303.05" y1="205.50" x2="306.45" y2="205.50" stroke="#284a88" stroke-width="1.0"/>
<line x1="325.80" y1="194.50" x2="325.80" y2="201.20" stroke="#284a88" stroke-width="1.0"/>
<line x1="324.10" y1="194.50" x2="327.50" y2="194.50" stroke="#284a88" stroke-width="1.0"/>
<line x1="324.10" y1="201.20" x2="327.50" y2="201.20" stroke="#284a88" stroke-width="1.0"/>
<line x1="342.40" y1="195.20" x2="342.40" y2="205.50" stroke="#284a88" stroke-width="1.0"/>
<line x1="340.70" y1="195.20" x2="344.10" y2="195.20" stroke="#284a88" stroke-width="1.0"/>
<line x1="340.70" y1="205.50" x2="344.10" y2="205.50" stroke="#284a88" stroke-width="1.0"/>
<circle cx="220.80" cy="210.40" r="1.55" fill="#fff" stroke="#284a88" stroke-width="1.1"/>
<circle cx="233.92" cy="197.30" r="1.55" fill="#fff" stroke="#284a88" stroke-width="1.1"/>
<circle cx="247.04" cy="216.60" r="1.55" fill="#fff" stroke="#284a88" stroke-width="1.1"/>
<circle cx="260.16" cy="212.30" r="1.55" fill="#fff" stroke="#284a88" stroke-width="1.1"/>
<circle cx="273.28" cy="209.90" r="1.55" fill="#fff" stroke="#284a88" stroke-width="1.1"/>
<circle cx="283.70" cy="187.10" r="1.55" fill="#fff" stroke="#284a88" stroke-width="1.1"/>
<circle cx="304.75" cy="197.90" r="1.55" fill="#fff" stroke="#284a88" stroke-width="1.1"/>
<circle cx="325.80" cy="197.60" r="1.55" fill="#fff" stroke="#284a88" stroke-width="1.1"/>
<circle cx="342.40" cy="200.40" r="1.55" fill="#fff" stroke="#284a88" stroke-width="1.1"/>
<polyline points="220.80,212.40 233.92,201.90 247.04,231.00 260.16,230.50 273.28,224.80 283.70,213.40" fill="none" stroke="#b30b31" stroke-width="1.5" stroke-linejoin="round"/>
<line x1="233.92" y1="192.70" x2="233.92" y2="210.70" stroke="#b30b31" stroke-width="1.3" stroke-opacity="0.68"/>
<line x1="232.02" y1="192.70" x2="235.82" y2="192.70" stroke="#b30b31" stroke-width="1.3" stroke-opacity="0.68"/>
<line x1="232.02" y1="210.70" x2="235.82" y2="210.70" stroke="#b30b31" stroke-width="1.3" stroke-opacity="0.68"/>
<line x1="247.04" y1="227.50" x2="247.04" y2="235.10" stroke="#b30b31" stroke-width="1.1"/>
<line x1="245.24" y1="227.50" x2="248.84" y2="227.50" stroke="#b30b31" stroke-width="1.1"/>
<line x1="245.24" y1="235.10" x2="248.84" y2="235.10" stroke="#b30b31" stroke-width="1.1"/>
<line x1="260.16" y1="227.00" x2="260.16" y2="234.00" stroke="#b30b31" stroke-width="1.1"/>
<line x1="258.36" y1="227.00" x2="261.96" y2="227.00" stroke="#b30b31" stroke-width="1.1"/>
<line x1="258.36" y1="234.00" x2="261.96" y2="234.00" stroke="#b30b31" stroke-width="1.1"/>
<line x1="273.28" y1="221.80" x2="273.28" y2="227.80" stroke="#b30b31" stroke-width="1.1"/>
<line x1="271.48" y1="221.80" x2="275.08" y2="221.80" stroke="#b30b31" stroke-width="1.1"/>
<line x1="271.48" y1="227.80" x2="275.08" y2="227.80" stroke="#b30b31" stroke-width="1.1"/>
<line x1="283.70" y1="209.40" x2="283.70" y2="217.10" stroke="#b30b31" stroke-width="1.1"/>
<line x1="281.90" y1="209.40" x2="285.50" y2="209.40" stroke="#b30b31" stroke-width="1.1"/>
<line x1="281.90" y1="217.10" x2="285.50" y2="217.10" stroke="#b30b31" stroke-width="1.1"/>
<rect x="218.80" y="210.40" width="4.0" height="4.0" fill="#b30b31"/>
<circle cx="233.92" cy="201.90" r="2.35" fill="#b30b31"/>
<circle cx="247.04" cy="231.00" r="2.35" fill="#b30b31"/>
<circle cx="260.16" cy="230.50" r="2.35" fill="#b30b31"/>
<circle cx="273.28" cy="224.80" r="2.35" fill="#b30b31"/>
<circle cx="283.70" cy="213.40" r="2.35" fill="#b30b31"/>
<path d="M247.04,206.95L247.04,209.05M246.13,207.47L247.95,208.53M247.95,207.47L246.13,208.53" stroke="#1a1a1a" stroke-width="0.9" stroke-linecap="round" fill="none"/>
<path d="M258.44,205.15L258.44,207.25M257.53,205.67L259.34,206.72M259.34,205.67L257.53,206.72" stroke="#1a1a1a" stroke-width="0.9" stroke-linecap="round" fill="none"/>
<path d="M261.89,205.15L261.89,207.25M260.98,205.67L262.79,206.72M262.79,205.67L260.98,206.72" stroke="#1a1a1a" stroke-width="0.9" stroke-linecap="round" fill="none"/>
<path d="M272.20,201.25L272.20,203.35M271.29,201.78L273.11,202.83M273.11,201.78L271.29,202.83" stroke="#1a1a1a" stroke-width="0.9" stroke-linecap="round" fill="none"/>
<path d="M283.80,189.95L283.80,192.05M282.89,190.47L284.71,191.53M284.71,190.47L282.89,191.53" stroke="#1a1a1a" stroke-width="0.9" stroke-linecap="round" fill="none"/>
</svg>
</body></html>
